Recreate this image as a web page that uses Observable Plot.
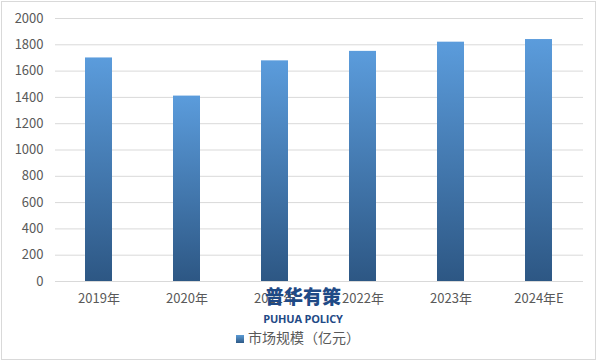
<!DOCTYPE html>
<html><head><meta charset="utf-8">
<script src="https://cdn.jsdelivr.net/npm/d3@7"></script>
<script src="https://cdn.jsdelivr.net/npm/@observablehq/plot@0.6"></script>
<style>
body{margin:0;background:#fff;position:relative;width:601px;height:361px;overflow:hidden;font-family:"Noto Sans CJK SC","Noto Sans",sans-serif;}
#chart{position:absolute;left:0;top:0;}
#border{position:absolute;left:1px;top:1px;width:593px;height:357px;border:1px solid #d9d9d9;pointer-events:none;}
#legend{position:absolute;left:0;top:325px;width:596px;text-align:center;font-size:14px;color:#595959;line-height:24px;}
#legend .sw{display:inline-block;width:8px;height:8px;margin-right:4px;vertical-align:0px;background:linear-gradient(#5b9bd5,#2e5a87);}
#wm{position:absolute;left:253px;top:284px;width:100px;text-align:center;color:#1f4a86;font-weight:bold;white-space:nowrap;}
#wm .a{font-size:19px;line-height:24px;font-weight:900;}
#wm .b{font-family:"Open Sans","Noto Sans",sans-serif;font-size:11px;line-height:13px;margin-top:4px;letter-spacing:-0.2px;}
</style></head>
<body>
<div id="chart"></div>
<div id="legend"></div>
<div id="wm"><div class="a">普华有策</div><div class="b">PUHUA POLICY</div></div>
<div id="border"></div>
<script>
const years = ["2019年", "2020年", "2021年", "2022年", "2023年", "2024年E"];
const marketSize = [1700, 1410, 1678, 1750, 1820, 1840];
const yTicks = [0, 200, 400, 600, 800, 1000, 1200, 1400, 1600, 1800, 2000];
const seriesName = "市场规模（亿元）";

const data = years.map((y, i) => ({year: y, value: marketSize[i]}));

const chart = Plot.plot({
  width: 601,
  height: 325,
  marginTop: 18,
  marginBottom: 44,
  marginLeft: 55,
  marginRight: 18,
  style: {fontFamily: '"Noto Sans CJK SC","Noto Sans",sans-serif', fontSize: "13px", color: "#595959", background: "transparent"},
  x: {domain: years, paddingInner: 0.69, paddingOuter: 0.345, label: null},
  y: {domain: [0, 2000], label: null},
  marks: [
    Plot.gridY(yTicks, {stroke: "#d9d9d9", strokeOpacity: 1}),
    Plot.axisY({ticks: yTicks, tickFormat: d => String(d), tickSize: 0, tickPadding: 12, label: null, fill: "#595959", fontSize: 13}),
    Plot.axisX({tickSize: 0, tickPadding: 12, label: null, fill: "#595959", fontSize: 13}),
    Plot.barY(data, {x: "year", y: "value", fill: "url(#barGrad)"})
  ]
});

const svg = d3.select(chart);
const grad = svg.insert("defs", ":first-child").append("linearGradient")
  .attr("id", "barGrad").attr("x1", 0).attr("y1", 0).attr("x2", 0).attr("y2", 1);
grad.append("stop").attr("offset", "0%").attr("stop-color", "#5b9cdc");
grad.append("stop").attr("offset", "100%").attr("stop-color", "#2d5784");

document.getElementById("chart").appendChild(chart);
document.getElementById("legend").innerHTML = '<span class="sw"></span>' + seriesName;
</script>
</body></html>
